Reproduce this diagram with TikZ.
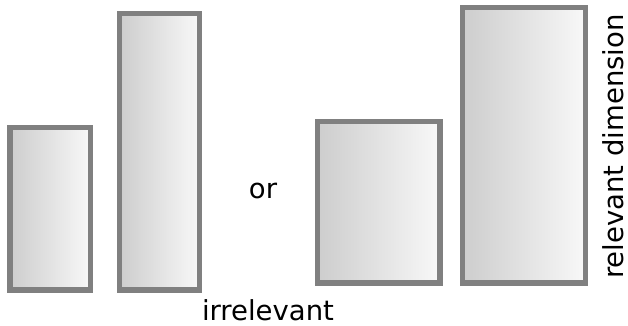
\documentclass[tikz,border=0pt]{standalone}
\usepackage{fontspec}
\setmainfont{DejaVu Sans}
\definecolor{bord}{HTML}{808080}
\definecolor{gl}{HTML}{CDCDCD}
\definecolor{gr}{HTML}{F8F8F8}
\begin{document}
\begin{tikzpicture}[x=1pt,y=-1pt,
  bar/.style={draw=bord,line width=5.3pt,left color=gl,right color=gr},
  lbl/.style={font=\fontsize{27.5}{30}\selectfont,inner sep=0pt}]
\useasboundingbox (0,0) rectangle (628,326);
\draw[bar] (10,127.7) rectangle (90.6,290);
\draw[bar] (119.3,13.7) rectangle (199.7,290);
\draw[bar] (317.7,121.7) rectangle (440,283);
\draw[bar] (462.7,7.7) rectangle (585.7,283);
\node[lbl,anchor=base] (or) at (263,198) {or};
\node[lbl,anchor=base] (irr) at (268,320.5) {irrelevant};
\node[lbl,anchor=base,rotate=90] (rel) at (623.5,146.5) {relevant dimension};
\end{tikzpicture}
\end{document}
